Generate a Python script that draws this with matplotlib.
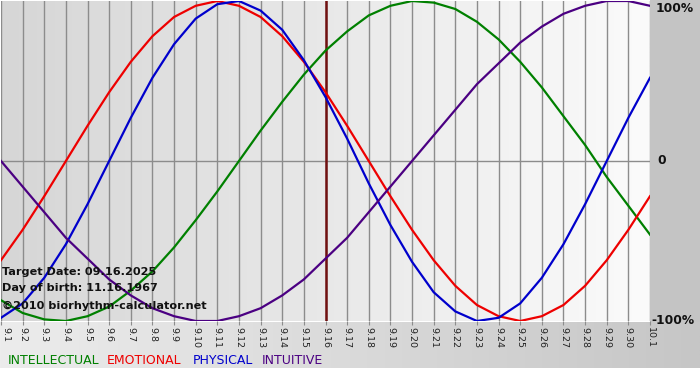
import numpy as np
import matplotlib
matplotlib.use("Agg")
import matplotlib.pyplot as plt
from matplotlib.colors import LinearSegmentedColormap

# day labels along the bottom (9.1 ... 10.1)
days = ["9.%d" % d for d in range(1, 31)] + ["10.1"]
target_day = "9.16"

# daily values, -1 .. 1
physical = [-0.98, -0.89, -0.73, -0.52, -0.27, 0.00, 0.27, 0.52, 0.73, 0.89, 0.98,
            1.00, 0.94, 0.82, 0.63, 0.40, 0.14, -0.14, -0.40, -0.63, -0.82,
            -0.94, -1.00, -0.98, -0.89, -0.73, -0.52, -0.27, 0.00, 0.27, 0.52]
emotional = [-0.62, -0.43, -0.22, 0.00, 0.22, 0.43, 0.62, 0.78, 0.90, 0.97, 1.00,
             0.97, 0.90, 0.78, 0.62, 0.43, 0.22, 0.00, -0.22, -0.43, -0.62,
             -0.78, -0.90, -0.97, -1.00, -0.97, -0.90, -0.78, -0.62, -0.43, -0.22]
intellectual = [-0.87, -0.95, -0.99, -1.00, -0.97, -0.91, -0.81, -0.69, -0.54, -0.37, -0.19,
                0.00, 0.19, 0.37, 0.54, 0.69, 0.81, 0.91, 0.97, 1.00, 0.99,
                0.95, 0.87, 0.76, 0.62, 0.46, 0.28, 0.10, -0.10, -0.28, -0.46]
intuitive = [0.00, -0.16, -0.32, -0.48, -0.61, -0.74, -0.84, -0.92, -0.97, -1.00, -1.00,
             -0.97, -0.92, -0.84, -0.74, -0.61, -0.48, -0.32, -0.16, 0.00, 0.16,
             0.32, 0.48, 0.61, 0.74, 0.84, 0.92, 0.97, 1.00, 1.00, 0.97]

series = [("INTELLECTUAL", intellectual, "#008000"),
          ("EMOTIONAL", emotional, "#ee0000"),
          ("PHYSICAL", physical, "#0000cc"),
          ("INTUITIVE", intuitive, "#4b0082")]

W, H = 700, 380
fig = plt.figure(figsize=(7, 3.8), dpi=100)
fig.patch.set_facecolor("white")

# background: gray margin on the right, gradient strip at the bottom
bg = fig.add_axes([0, 0, 1, 1])
bg.set_xlim(0, W)
bg.set_ylim(H, 0)
bg.axis("off")
bg.add_patch(plt.Rectangle((650, 0), 50, 322, color="#c4c4c4", lw=0))
strip = LinearSegmentedColormap.from_list("strip", ["#ececec", "#dadada", "#c6c6c6"])
bg.imshow(np.linspace(0, 1, 256)[None, :], cmap=strip, aspect="auto",
          extent=(0, W, 368, 322))

# plot area
ax = fig.add_axes([1 / W, 1 - 321 / H, 649 / W, 320 / H])
ax.set_xlim(0, len(days) - 1)
ax.set_ylim(-1, 1)
ax.patch.set_alpha(0)
plot_bg = LinearSegmentedColormap.from_list("plot", ["#d6d6d6", "#fbfbfb"])
ax.imshow(np.linspace(0, 1, 256)[None, :], cmap=plot_bg, aspect="auto",
          extent=(0, len(days) - 1, -1, 1), zorder=0)

x = np.arange(len(days))
for xi in x:
    ax.axvline(xi, color="#8c8c8c", lw=1.0, zorder=1)
ax.axhline(0, color="#8c8c8c", lw=1.0, zorder=1)
ax.axvline(days.index(target_day), color="#701010", lw=1.8, zorder=2)

for name, vals, col in series:
    ax.plot(x, vals, color=col, lw=1.6, zorder=3, solid_joinstyle="round")

for s in ax.spines.values():
    s.set_visible(False)
ax.set_xticks(x)
ax.set_xticklabels(days, rotation=270, fontsize=6.8, color="#222222")
ax.tick_params(axis="x", length=3, color="#8c8c8c", pad=1)
ax.get_xticklabels()[0].set_horizontalalignment("left")
ax.set_yticks([])

# right-hand scale labels
tr = ax.get_yaxis_transform()
ax.text(1.008, 0.995, "100%", transform=tr, ha="left", va="top",
        fontsize=8.8, fontweight="bold", color="#111111")
ax.text(1.012, 0, "0", transform=tr, ha="left", va="center",
        fontsize=8.8, fontweight="bold", color="#111111")
ax.text(1.002, -1, "-100%", transform=tr, ha="left", va="center",
        fontsize=8.8, fontweight="bold", color="#111111")

# info text in the lower left
info = ["Target Date: 09.16.2025", "Day of birth: 11.16.1967", "\u00a92010 biorhythm-calculator.net"]
for txt, ypx in zip(info, [272, 288, 306]):
    fig.text(2 / W, 1 - ypx / H, txt, fontsize=8.1, fontweight="bold",
             color="#111111", va="center", ha="left")

# legend row
for (name, vals, col), xpx in zip(series, [8, 107, 193, 262]):
    fig.text(xpx / W, 1 - 361 / H, name, fontsize=9, color=col,
             va="center", ha="left")

fig.savefig("out.png", dpi=100)
